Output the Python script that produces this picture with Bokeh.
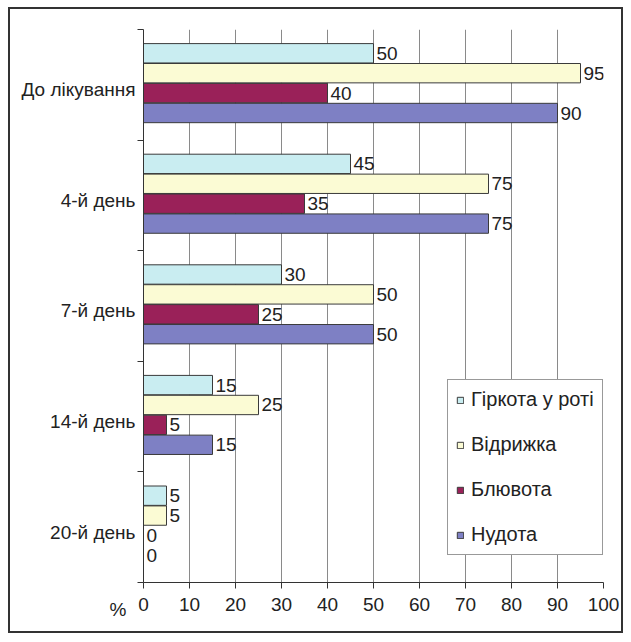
from bokeh.plotting import figure
from bokeh.models import (ColumnDataSource, FixedTicker, Legend, LegendItem,
                          Range1d, LabelSet)
from bokeh.core.properties import value
from bokeh.embed import file_html
from bokeh.resources import INLINE
from bokeh.transform import dodge

categories = ["До лікування", "4-й день", "7-й день", "14-й день", "20-й день"]
series_names = ["Гіркота у роті", "Відрижка", "Блювота", "Нудота"]
bitterness = [50, 45, 30, 15, 5]
belching = [95, 75, 50, 25, 5]
vomiting = [40, 35, 25, 5, 0]
nausea = [90, 75, 50, 15, 0]
x_ticks = [0, 10, 20, 30, 40, 50, 60, 70, 80, 90, 100]
unit_label = "%"

colors = ["#c9edf1", "#fbfbd4", "#9a2159", "#7e80c4"]
offsets = [0.285, 0.105, -0.075, -0.255]
series = [bitterness, belching, vomiting, nausea]

FONT = "Liberation Sans"
FS = "19px"
TXT = "#222222"
n = len(categories)
ypos = [n - 0.5 - i for i in range(n)]
label_pos = [y - 0.045 for y in ypos]

p = figure(width=615, height=626, output_backend="svg", toolbar_location=None,
           x_range=Range1d(0, 100), y_range=Range1d(0, n),
           min_border_left=133, min_border_right=22, min_border_top=20, min_border_bottom=53)
p.styles = {"border": "2px solid #333333", "margin": "7px 0 0 8px"}
p.outline_line_color = None
p.background_fill_color = "white"
p.border_fill_color = "white"

items = []
for name, vals, col, off in zip(series_names, series, colors, offsets):
    src = ColumnDataSource(dict(y=ypos, v=vals, lab=[str(v) for v in vals]))
    r = p.hbar(y=dodge("y", off), right="v", left=0, height=0.175, source=src,
               fill_color=col, line_color="#3a3a3a", line_width=1)
    labels = LabelSet(x="v", y=dodge("y", off), text="lab", source=src, x_offset=3,
                      text_baseline="middle", text_font=value(FONT), text_font_size=value(FS),
                      text_color=TXT)
    p.add_layout(labels)
    items.append(LegendItem(label=name, renderers=[r]))

# x axis
p.xaxis.ticker = FixedTicker(ticks=x_ticks)
p.xaxis.major_tick_in = 0
p.xaxis.major_tick_out = 6
p.xaxis.minor_tick_line_color = None
p.xaxis.axis_line_color = "#333333"
p.xaxis.major_tick_line_color = "#333333"
p.xaxis.major_label_text_font = FONT
p.xaxis.major_label_text_font_size = FS
p.xaxis.major_label_text_color = TXT
p.xaxis.major_label_standoff = 9

# y axis (categories; small ticks between groups)
p.yaxis.ticker = FixedTicker(ticks=label_pos, minor_ticks=list(range(n + 1)))
p.yaxis.major_label_overrides = {y: c for y, c in zip(label_pos, categories)}
p.yaxis.major_tick_line_color = None
p.yaxis.major_tick_in = 0
p.yaxis.major_tick_out = 0
p.yaxis.minor_tick_in = 0
p.yaxis.minor_tick_out = 6
p.yaxis.minor_tick_line_color = "#333333"
p.yaxis.axis_line_color = "#333333"
p.yaxis.major_label_text_font = FONT
p.yaxis.major_label_text_font_size = FS
p.yaxis.major_label_text_color = TXT
p.yaxis.major_label_standoff = 2
# "%" unit label next to the 0 of the x axis
p.yaxis.axis_label = "\n\n" + unit_label
p.yaxis.axis_label_orientation = "horizontal"
p.yaxis.axis_label_align = "start"
p.yaxis.axis_label_standoff = -108
p.yaxis.axis_label_text_font = FONT
p.yaxis.axis_label_text_font_size = FS
p.yaxis.axis_label_text_font_style = "normal"
p.yaxis.axis_label_text_line_height = 1.3
p.yaxis.axis_label_text_color = TXT

p.xgrid.ticker = FixedTicker(ticks=x_ticks[1:])
p.xgrid.grid_line_color = "#8a8a8a"
p.ygrid.grid_line_color = None

legend = Legend(items=items, location=(304, 27), glyph_width=8, glyph_height=8,
                label_standoff=7, label_height=22, spacing=22, padding=8, margin=0,
                label_text_font=FONT, label_text_font_size="20px", label_text_color=TXT,
                border_line_color="#333333", border_line_width=1, background_fill_alpha=1)
p.add_layout(legend)

open("out.html", "w").write(file_html(p, INLINE))
